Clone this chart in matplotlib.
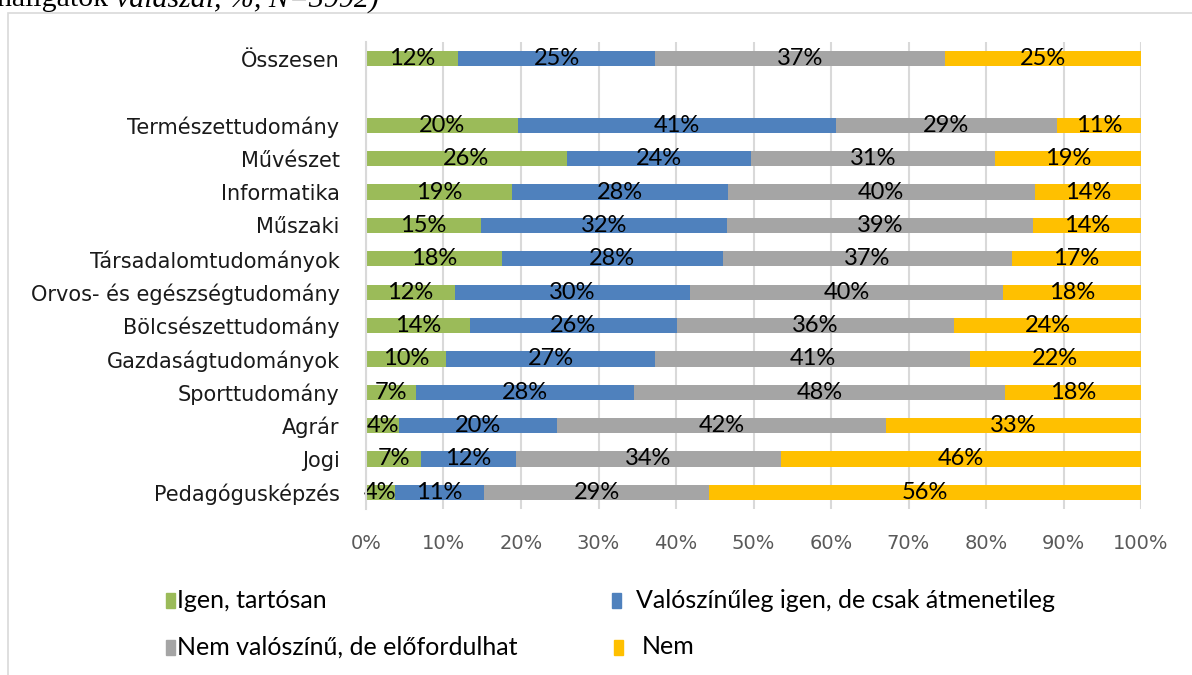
import matplotlib
matplotlib.use("Agg")
import matplotlib.pyplot as plt
from matplotlib.patches import Rectangle
import numpy as np

categories = ["Összesen", "", "Természettudomány", "Művészet", "Informatika", "Műszaki",
              "Társadalomtudományok", "Orvos- és egészségtudomány", "Bölcsészettudomány",
              "Gazdaságtudományok", "Sporttudomány", "Agrár", "Jogi", "Pedagógusképzés"]

series_names = ["Igen, tartósan", "Valószínűleg igen, de csak átmenetileg",
                "Nem valószínű, de előfordulhat", "Nem"]

igen_tartosan = [11.9, None, 19.6, 25.9, 18.9, 14.8, 17.5, 11.5, 13.4, 10.3, 6.5, 4.3, 7.1, 3.7]
atmeneti = [25.4, None, 41.0, 23.8, 27.8, 31.8, 28.5, 30.3, 26.7, 27.0, 28.1, 20.3, 12.2, 11.5]
elofordulhat = [37.4, None, 28.6, 31.5, 39.6, 39.5, 37.3, 40.4, 35.8, 40.6, 47.9, 42.5, 34.3, 29.1]
nem = [25.3, None, 10.8, 18.8, 13.7, 13.9, 16.7, 17.8, 24.1, 22.1, 17.5, 32.9, 46.4, 55.7]

labels = [
    ["12%", "", "20%", "26%", "19%", "15%", "18%", "12%", "14%", "10%", "7%", "4%", "7%", "4%"],
    ["25%", "", "41%", "24%", "28%", "32%", "28%", "30%", "26%", "27%", "28%", "20%", "12%", "11%"],
    ["37%", "", "29%", "31%", "40%", "39%", "37%", "40%", "36%", "41%", "48%", "42%", "34%", "29%"],
    ["25%", "", "11%", "19%", "14%", "14%", "17%", "18%", "24%", "22%", "18%", "33%", "46%", "56%"],
]

colors = ["#9BBB59", "#4F81BD", "#A5A5A5", "#FFC000"]

W, H = 1192, 675
fig = plt.figure(figsize=(W / 100, H / 100), dpi=100)

# outer chart border
fig.patches.append(Rectangle((8 / W, -0.1), 1.2, 1 - 13 / H + 0.1, transform=fig.transFigure,
                             fill=False, edgecolor="#D9D9D9", linewidth=1.2))

# cut-off caption above the chart
renderer = fig.canvas.get_renderer()
t1 = fig.text(-3 / W, 1 - 6.5 / H, "hallgatók ", family="Liberation Serif", fontsize=21.5,
              va="baseline", ha="left", color="black")
bb = t1.get_window_extent(renderer)
fig.text(bb.x1 / W, 1 - 6.5 / H, "válaszai, %, N=3992)", family="Liberation Serif",
         fontsize=21.5, style="italic", va="baseline", ha="left", color="black")

ax = fig.add_axes([366 / W, 1 - 509 / H, (1141 - 366) / W, (509 - 42) / H])

n = len(categories)
ypos = np.arange(n)[::-1]
series = [igen_tartosan, atmeneti, elofordulhat, nem]
left = np.zeros(n)
for s, (vals, col) in enumerate(zip(series, colors)):
    v = np.array([0 if x is None else x for x in vals], dtype=float)
    ax.barh(ypos, v, left=left, height=0.46, color=col, zorder=3)
    for i in range(n):
        if vals[i] is not None:
            ax.text(left[i] + v[i] / 2, ypos[i], labels[s][i], ha="center", va="center",
                    family="Lato", fontsize=17, color="black", zorder=4)
    left += v

ax.set_xlim(0, 100)
ax.set_ylim(-0.5, n - 0.5)
ax.set_xticks(np.arange(0, 101, 10))
ax.set_xticklabels([f"{x}%" for x in range(0, 101, 10)], family="DejaVu Sans",
                   fontsize=14, color="#595959")
ax.set_yticks(ypos)
ax.set_yticklabels(categories, family="DejaVu Sans", fontsize=15, color="#1a1a1a")
ax.tick_params(axis="y", length=0, pad=19)
ax.tick_params(axis="x", length=0, pad=18)
ax.grid(axis="x", color="#D9D9D9", linewidth=1.5, zorder=0)
for sp in ["top", "right", "bottom"]:
    ax.spines[sp].set_visible(False)
ax.spines["left"].set_color("#D9D9D9")
ax.spines["left"].set_linewidth(1.5)
ax.spines["left"].set_zorder(5)

# legend
leg_pos = [(166, 600), (612, 600), (166, 647), (614, 647)]
text_x = [177, 636, 177, 642]
for name, col, (mx, my), tx in zip(series_names, colors, leg_pos, text_x):
    fig.patches.append(Rectangle((mx / W, 1 - (my + 7.5) / H), 9 / W, 15 / H,
                                 transform=fig.transFigure, color=col))
    fig.text(tx / W, 1 - my / H, name, family="Lato", fontsize=18, va="center",
             ha="left", color="black")

fig.savefig("out.png", dpi=100)
